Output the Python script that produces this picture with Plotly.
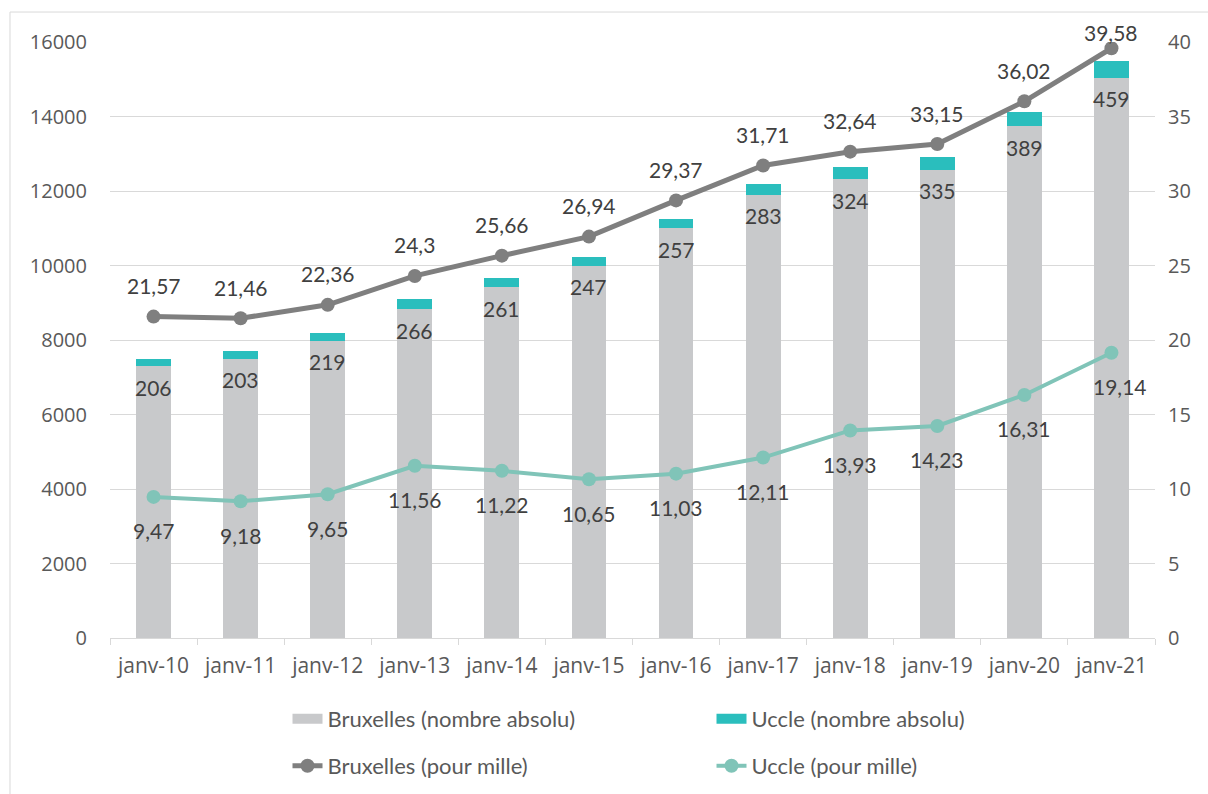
import plotly.graph_objects as go

# Data
categories = ["janv-10", "janv-11", "janv-12", "janv-13", "janv-14", "janv-15",
              "janv-16", "janv-17", "janv-18", "janv-19", "janv-20", "janv-21"]
bruxelles_abs = [7294, 7498, 7981, 8832, 9415, 9987, 10999, 11901, 12314, 12572, 13745, 15042]
uccle_abs = [206, 203, 219, 266, 261, 247, 257, 283, 324, 335, 389, 459]
bruxelles_pm = [21.57, 21.46, 22.36, 24.3, 25.66, 26.94, 29.37, 31.71, 32.64, 33.15, 36.02, 39.58]
uccle_pm = [9.47, 9.18, 9.65, 11.56, 11.22, 10.65, 11.03, 12.11, 13.93, 14.23, 16.31, 19.14]
left_ticks = [0, 2000, 4000, 6000, 8000, 10000, 12000, 14000, 16000]
right_ticks = [0, 5, 10, 15, 20, 25, 30, 35, 40]

GREY_BAR = "#C8C9CB"
TEAL_BAR = "#2ABEBD"
GREY_LINE = "#7F7F7F"
TEAL_LINE = "#80C4B8"
LABEL = "#404040"
AXIS_TXT = "#595959"
GRID = "#D9D9D9"
FONT = "Lato"
TICK_FONT = "Open Sans"


def fr(v):
    return f"{v:g}".replace(".", ",")


fig = go.Figure()

fig.add_trace(go.Bar(
    x=categories, y=bruxelles_abs, name="Bruxelles (nombre absolu)",
    marker=dict(color=GREY_BAR, line=dict(width=0)),
    legendgroup="bxl_abs", showlegend=False,
))
fig.add_trace(go.Bar(
    x=categories, y=uccle_abs, name="Uccle (nombre absolu)",
    marker=dict(color=TEAL_BAR, line=dict(width=0)),
    legendgroup="ucc_abs", showlegend=False,
))
# wide rectangular legend keys for the bar series
fig.add_trace(go.Scatter(
    x=[None], y=[None], name="Bruxelles (nombre absolu)", mode="lines",
    line=dict(color=GREY_BAR, width=13), legendgroup="bxl_abs", legend="legend",
    hoverinfo="skip",
))
fig.add_trace(go.Scatter(
    x=[None], y=[None], name="Uccle (nombre absolu)", mode="lines",
    line=dict(color=TEAL_BAR, width=13), legendgroup="ucc_abs", legend="legend",
    hoverinfo="skip",
))
fig.add_trace(go.Scatter(
    x=categories, y=bruxelles_pm, name="Bruxelles (pour mille)", yaxis="y2",
    mode="lines+markers", line=dict(color=GREY_LINE, width=5),
    marker=dict(color=GREY_LINE, size=14), legend="legend2",
))
fig.add_trace(go.Scatter(
    x=categories, y=uccle_pm, name="Uccle (pour mille)", yaxis="y2",
    mode="lines+markers", line=dict(color=TEAL_LINE, width=4),
    marker=dict(color=TEAL_LINE, size=14), legend="legend2",
))

annotations = []
label_font = dict(family=FONT, size=21, color=LABEL)
# Uccle counts, just under the teal segment
for c, b, u in zip(categories, bruxelles_abs, uccle_abs):
    annotations.append(dict(x=c, y=b, xref="x", yref="y", text=str(u), showarrow=False,
                            yshift=-21, font=label_font))
# Bruxelles rate labels above the points
for i, (c, v) in enumerate(zip(categories, bruxelles_pm)):
    shift = 16 if i == len(categories) - 1 else 31
    annotations.append(dict(x=c, y=v, xref="x", yref="y2", text=fr(v), showarrow=False,
                            yshift=shift, font=label_font))
# Uccle rate labels below the points
for i, (c, v) in enumerate(zip(categories, uccle_pm)):
    xs = 9 if i == len(categories) - 1 else 0
    annotations.append(dict(x=c, y=v, xref="x", yref="y2", text=fr(v), showarrow=False,
                            yshift=-34, xshift=xs, font=label_font))

legend_common = dict(
    orientation="h", xref="container", yref="container", xanchor="left", yanchor="middle",
    entrywidth=379, entrywidthmode="pixels",
    font=dict(family=FONT, size=22, color=AXIS_TXT), bgcolor="rgba(0,0,0,0)",
    traceorder="normal",
)

fig.update_layout(
    width=1208, height=794,
    margin=dict(l=110, r=53, t=42, b=156),
    paper_bgcolor="white", plot_bgcolor="white",
    barmode="stack", bargap=0.6,
    font=dict(family=FONT, color=AXIS_TXT),
    xaxis=dict(
        type="category", range=[-0.5, len(categories) - 0.5],
        showgrid=False, showline=True, linecolor=GRID, linewidth=1,
        ticks="outside", tickson="boundaries", ticklen=6, tickcolor=GRID,
        tickfont=dict(family=TICK_FONT, size=21, color=AXIS_TXT),
        ticklabelstandoff=9, automargin=False,
    ),
    yaxis=dict(
        range=[0, 16000], tickvals=left_ticks, ticktext=[str(t) for t in left_ticks],
        showgrid=True, gridcolor=GRID, gridwidth=1, zeroline=False, showline=False,
        tickfont=dict(family=TICK_FONT, size=20, color=AXIS_TXT),
        ticklabelstandoff=22, automargin=False,
    ),
    yaxis2=dict(
        range=[0, 40], tickvals=right_ticks, ticktext=[str(t) for t in right_ticks],
        overlaying="y", side="right", showgrid=False, zeroline=False, showline=False,
        tickfont=dict(family=TICK_FONT, size=20, color=AXIS_TXT),
        ticklabelstandoff=12, automargin=False,
    ),
    legend=dict(x=0.238, y=0.0945, **legend_common),
    legend2=dict(x=0.238, y=0.0353, **legend_common),
    annotations=annotations,
    shapes=[dict(type="rect", xref="paper", yref="paper",
                 x0=-0.0957, x1=1.2, y0=-0.5, y1=1.0503,
                 line=dict(color=GRID, width=1), fillcolor="rgba(0,0,0,0)", layer="below")],
)

fig.write_html("out.html")
